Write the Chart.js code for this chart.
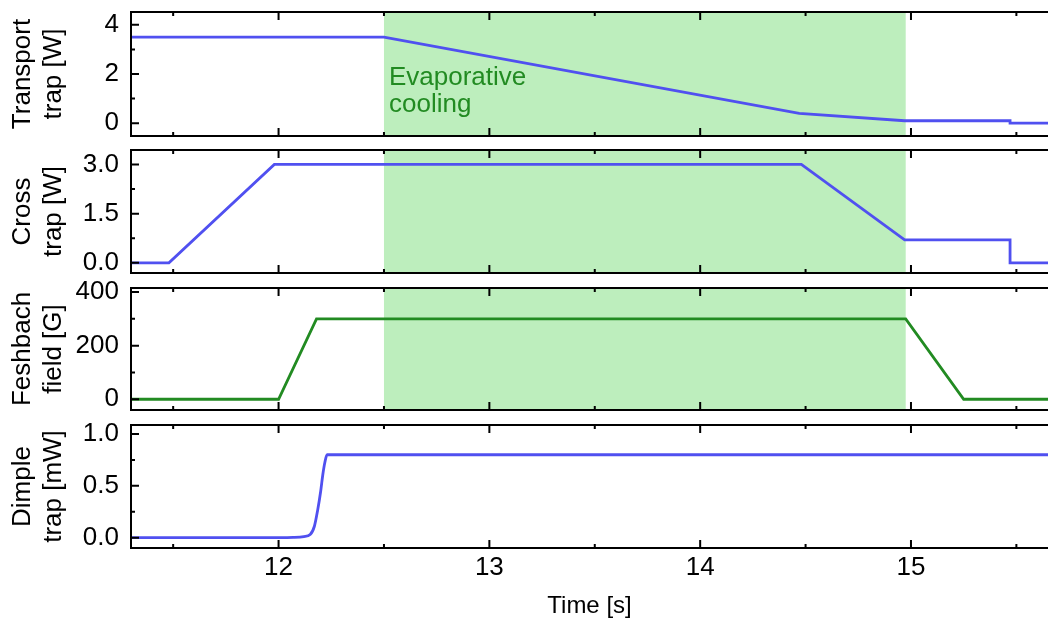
<!DOCTYPE html>
<html><head><meta charset="utf-8">
<script src="https://cdn.jsdelivr.net/npm/chart.js@4.4.0/dist/chart.umd.min.js"></script>
<style>
html,body{margin:0;padding:0;background:#fff;}
#wrap{position:relative;width:1048px;height:621px;overflow:hidden;background:#fff;}
canvas{position:absolute;left:0;}
</style></head><body>
<div id="wrap">
<canvas id="c1" width="1048" height="148" style="top:0px"></canvas>
<canvas id="c2" width="1048" height="147" style="top:138px"></canvas>
<canvas id="c3" width="1048" height="146" style="top:276px"></canvas>
<canvas id="c4" width="1048" height="211" style="top:410px"></canvas>
</div>
<script>
// ---- shared time axis ----
const xMin = 11.3, xMax = 15.65;
const xMajorTicks = [12, 13, 14, 15];
const xMinorTicks = [11.5, 12.5, 13.5, 14.5, 15.5];
const coolingStart = 12.5, coolingEnd = 14.975;
const coolingLabel = ['Evaporative', 'cooling'];
const xTitle = 'Time [s]';

// ---- Transport trap [W] ----
const transportTime  = [11.3, 12.5, 14.47, 14.97, 15.47, 15.47, 15.65];
const transportPower = [3.5, 3.5, 0.4, 0.1, 0.1, 0.0, 0.0];
const transportTicks = [0, 2, 4];
const transportMinor = [1, 3];

// ---- Cross trap [W] ----
const crossTime  = [11.3, 11.48, 11.98, 14.48, 14.97, 15.47, 15.47, 15.65];
const crossPower = [0, 0, 3.0, 3.0, 0.7, 0.7, 0, 0];
const crossTicks = [0, 1.5, 3.0];
const crossMinor = [0.75, 2.25];

// ---- Feshbach field [G] ----
const feshTime  = [11.3, 12.0, 12.18, 14.975, 15.25, 15.65];
const feshField = [0, 0, 300, 300, 0, 0];
const feshTicks = [0, 200, 400];
const feshMinor = [100, 300];

// ---- Dimple trap [mW] ----
const dimpleTime  = [11.3, 12.0, 12.07, 12.12, 12.15, 12.17, 12.185, 12.2, 12.21, 12.22, 12.23, 15.65];
const dimplePower = [0, 0, 0.002, 0.01, 0.03, 0.11, 0.26, 0.45, 0.61, 0.73, 0.8, 0.8];
const dimpleTicks = [0, 0.5, 1.0];
const dimpleMinor = [0.25, 0.75];

const FONT = "'Liberation Sans', Arial, Helvetica, sans-serif";
const BLUE = '#5050f0', GREEN = '#228b22', SHADE = '#bdeebd';

function pts(xs, ys){ return xs.map((x,i)=>({x:x, y:ys[i]})); }

const framePlugin = {
  id: 'frame',
  beforeDatasetsDraw(chart, args, o){
    const {ctx, chartArea:a} = chart; const xs = chart.scales.x;
    if (o.shade){
      const x1 = xs.getPixelForValue(coolingStart), x2 = xs.getPixelForValue(coolingEnd);
      ctx.save(); ctx.fillStyle = SHADE; ctx.fillRect(x1, a.top, x2-x1, a.bottom-a.top); ctx.restore();
    }
    if (o.note){
      const x1 = xs.getPixelForValue(coolingStart);
      ctx.save(); ctx.fillStyle = GREEN; ctx.font = "26px " + FONT; ctx.textBaseline='alphabetic';
      ctx.fillText(coolingLabel[0], x1 + 5, 85);
      ctx.fillText(coolingLabel[1], x1 + 5, 112);
      ctx.restore();
    }
  },
  afterDatasetsDraw(chart, args, o){
    const {ctx, chartArea:a} = chart; const xs = chart.scales.x, ys = chart.scales.y;
    ctx.save(); ctx.strokeStyle = '#000'; ctx.lineWidth = 2; ctx.lineCap = 'butt';
    ctx.beginPath();
    ctx.moveTo(a.right+2, a.top); ctx.lineTo(a.left, a.top); ctx.lineTo(a.left, a.bottom); ctx.lineTo(a.right+2, a.bottom);
    ctx.stroke();
    ctx.beginPath();
    const xt = (v, len) => { const p = xs.getPixelForValue(v); ctx.moveTo(p, a.top); ctx.lineTo(p, a.top+len); ctx.moveTo(p, a.bottom); ctx.lineTo(p, a.bottom-len); };
    xMajorTicks.forEach(v=>xt(v, 8)); xMinorTicks.forEach(v=>xt(v, 4));
    const yt = (v, len) => { const p = ys.getPixelForValue(v); ctx.moveTo(a.left, p); ctx.lineTo(a.left+len, p); };
    o.yMajor.forEach(v=>yt(v, 8)); o.yMinor.forEach(v=>yt(v, 4));
    ctx.stroke(); ctx.restore();
  }
};

function makeChart(id, data, color, yMin, yMax, yTicks, yMinor, dec, title, opts){
  const showX = !!opts.showX;
  return new Chart(document.getElementById(id), {
    type: 'line',
    data: { datasets: [{ data: data, borderColor: color, borderWidth: 2.8, pointRadius: 0, fill: false,
      tension: 0, cubicInterpolationMode: opts.smooth ? 'monotone' : 'default' }] },
    plugins: [framePlugin],
    options: {
      responsive: false, animation: false, devicePixelRatio: 1,
      layout: { padding: { top: opts.padTop, bottom: showX ? 0 : 12, left: 0, right: 0 } },
      plugins: { legend: {display:false}, tooltip: {enabled:false},
        frame: { shade: !!opts.shade, note: !!opts.note, yMajor: yTicks, yMinor: yMinor } },
      scales: {
        x: { type: 'linear', min: xMin, max: xMax, display: showX,
          afterBuildTicks: s => { s.ticks = xMajorTicks.map(v=>({value:v})); },
          grid: { display:false, drawTicks:false }, border: { display:false },
          ticks: { autoSkip:false, maxRotation:0, padding: 4, color:'#000', font:{size:26, family:FONT}, callback: v => String(v) },
          title: { display: showX, text: xTitle, color:'#000', font:{size:24, family:FONT, lineHeight:1.25}, padding:{top:0, bottom:0} },
          afterFit: s => { if (showX) s.height = 73; s.paddingLeft = 0; s.paddingRight = 0; } },
        y: { type: 'linear', min: yMin, max: yMax,
          afterBuildTicks: s => { s.ticks = yTicks.map(v=>({value:v})); },
          grid: { display:false, drawTicks:false }, border: { display:false },
          ticks: { autoSkip:false, padding: 12, color:'#000', font:{size:26, family:FONT}, callback: v => Number(v).toFixed(dec) },
          title: { display:true, text: title, color:'#000', font:{size:26, family:FONT, lineHeight:1.2}, padding:{top:7.5, bottom:0} },
          afterFit: s => { s.width = 131; s.paddingTop = 0; s.paddingBottom = 0; } }
      }
    }
  });
}

makeChart('c1', pts(transportTime, transportPower), BLUE, -0.52, 4.52, transportTicks, transportMinor, 0, ['Transport','trap [W]'], {shade:true, note:true, padTop:12});
makeChart('c2', pts(crossTime, crossPower), BLUE, -0.31, 3.44, crossTicks, crossMinor, 1, ['Cross','trap [W]'], {shade:true, padTop:12});
makeChart('c3', pts(feshTime, feshField), GREEN, -40, 415, feshTicks, feshMinor, 0, ['Feshbach','field [G]'], {shade:true, padTop:12});
makeChart('c4', pts(dimpleTime, dimplePower), BLUE, -0.1, 1.087, dimpleTicks, dimpleMinor, 1, ['Dimple','trap [mW]'], {showX:true, smooth:true, padTop:15});
</script>
</body></html>
